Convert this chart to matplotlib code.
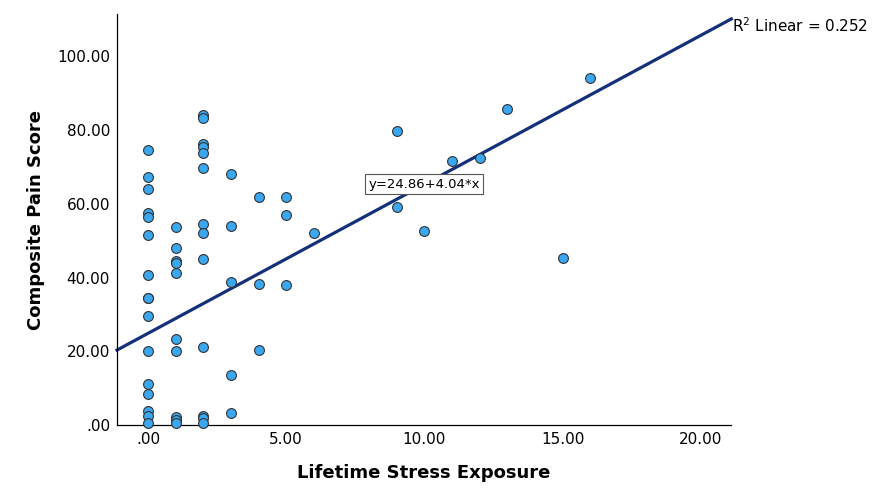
import matplotlib
matplotlib.use('Agg')
import matplotlib.pyplot as plt
import numpy as np

# stress exposure (x) and composite pain score (y)
stress = [0]*16 + [1]*10 + [2]*13 + [3]*5 + [4]*3 + [5]*3 + [6, 9, 9, 10, 11, 12, 13, 15, 16]
pain = [74.6, 67.2, 64.0, 57.6, 56.3, 51.6, 40.6, 34.5, 34.5, 29.5, 20.0, 11.2, 8.5, 3.8, 2.5, 0.5,
        53.6, 48.0, 44.6, 43.8, 41.3, 23.2, 20.0, 2.3, 1.4, 0.5,
        84.1, 83.3, 76.2, 75.4, 73.8, 69.7, 54.6, 52.2, 44.9, 21.2, 2.5, 1.8, 0.5,
        68.0, 54.0, 38.9, 13.5, 3.2,
        61.7, 38.3, 20.3,
        61.7, 57.0, 37.9,
        52.0, 79.8, 59.0, 52.7, 71.7, 72.4, 85.7, 45.3, 94.2]
intercept = 24.86
slope = 4.04
r2 = 0.252
xticks = [0, 5, 10, 15, 20]
yticks = [0, 20, 40, 60, 80, 100]

fig = plt.figure(figsize=(8.8, 4.88), dpi=100)
ax = fig.add_axes([0.133, 0.129, 0.698, 0.842])

xmin, xmax = -1.12, 21.1
xs = np.array([xmin, xmax])
ax.plot(xs, intercept + slope*xs, color='#15307a', lw=2.3, zorder=2, clip_on=False)
ax.scatter(stress, pain, s=50, facecolor='#3aa8f0', edgecolor='#333333', linewidth=0.8, zorder=3, clip_on=False)

ax.set_xlim(xmin, xmax)
ax.set_ylim(0, 111.4)
ax.set_xticks(xticks)
ax.set_yticks(yticks)
fmt = lambda v: '.00' if v == 0 else '%.2f' % v
ax.set_xticklabels([fmt(v) for v in xticks])
ax.set_yticklabels([fmt(v) for v in yticks])
ax.tick_params(axis='y', length=0, labelsize=11, pad=5)
ax.tick_params(axis='x', length=0, labelsize=11, pad=5)
for s in ['top', 'right']:
    ax.spines[s].set_visible(False)
ax.spines['left'].set_linewidth(0.9)
ax.spines['bottom'].set_linewidth(0.9)

ax.set_xlabel('Lifetime Stress Exposure', fontsize=13, fontweight='bold', labelpad=12)
ax.set_ylabel('Composite Pain Score', fontsize=13, fontweight='bold', labelpad=9)

ax.text(10.0, 65.3, 'y=24.86+4.04*x', fontsize=9.5, ha='center', va='center', zorder=4,
        bbox=dict(boxstyle='square,pad=0.25', facecolor='white', edgecolor='#555555', linewidth=0.8))
ax.text(1.001, 0.971, '$\\mathregular{R^2}$ Linear = %.3f' % r2, transform=ax.transAxes,
        fontsize=11, ha='left', va='center')

fig.savefig('out.png', dpi=100)
